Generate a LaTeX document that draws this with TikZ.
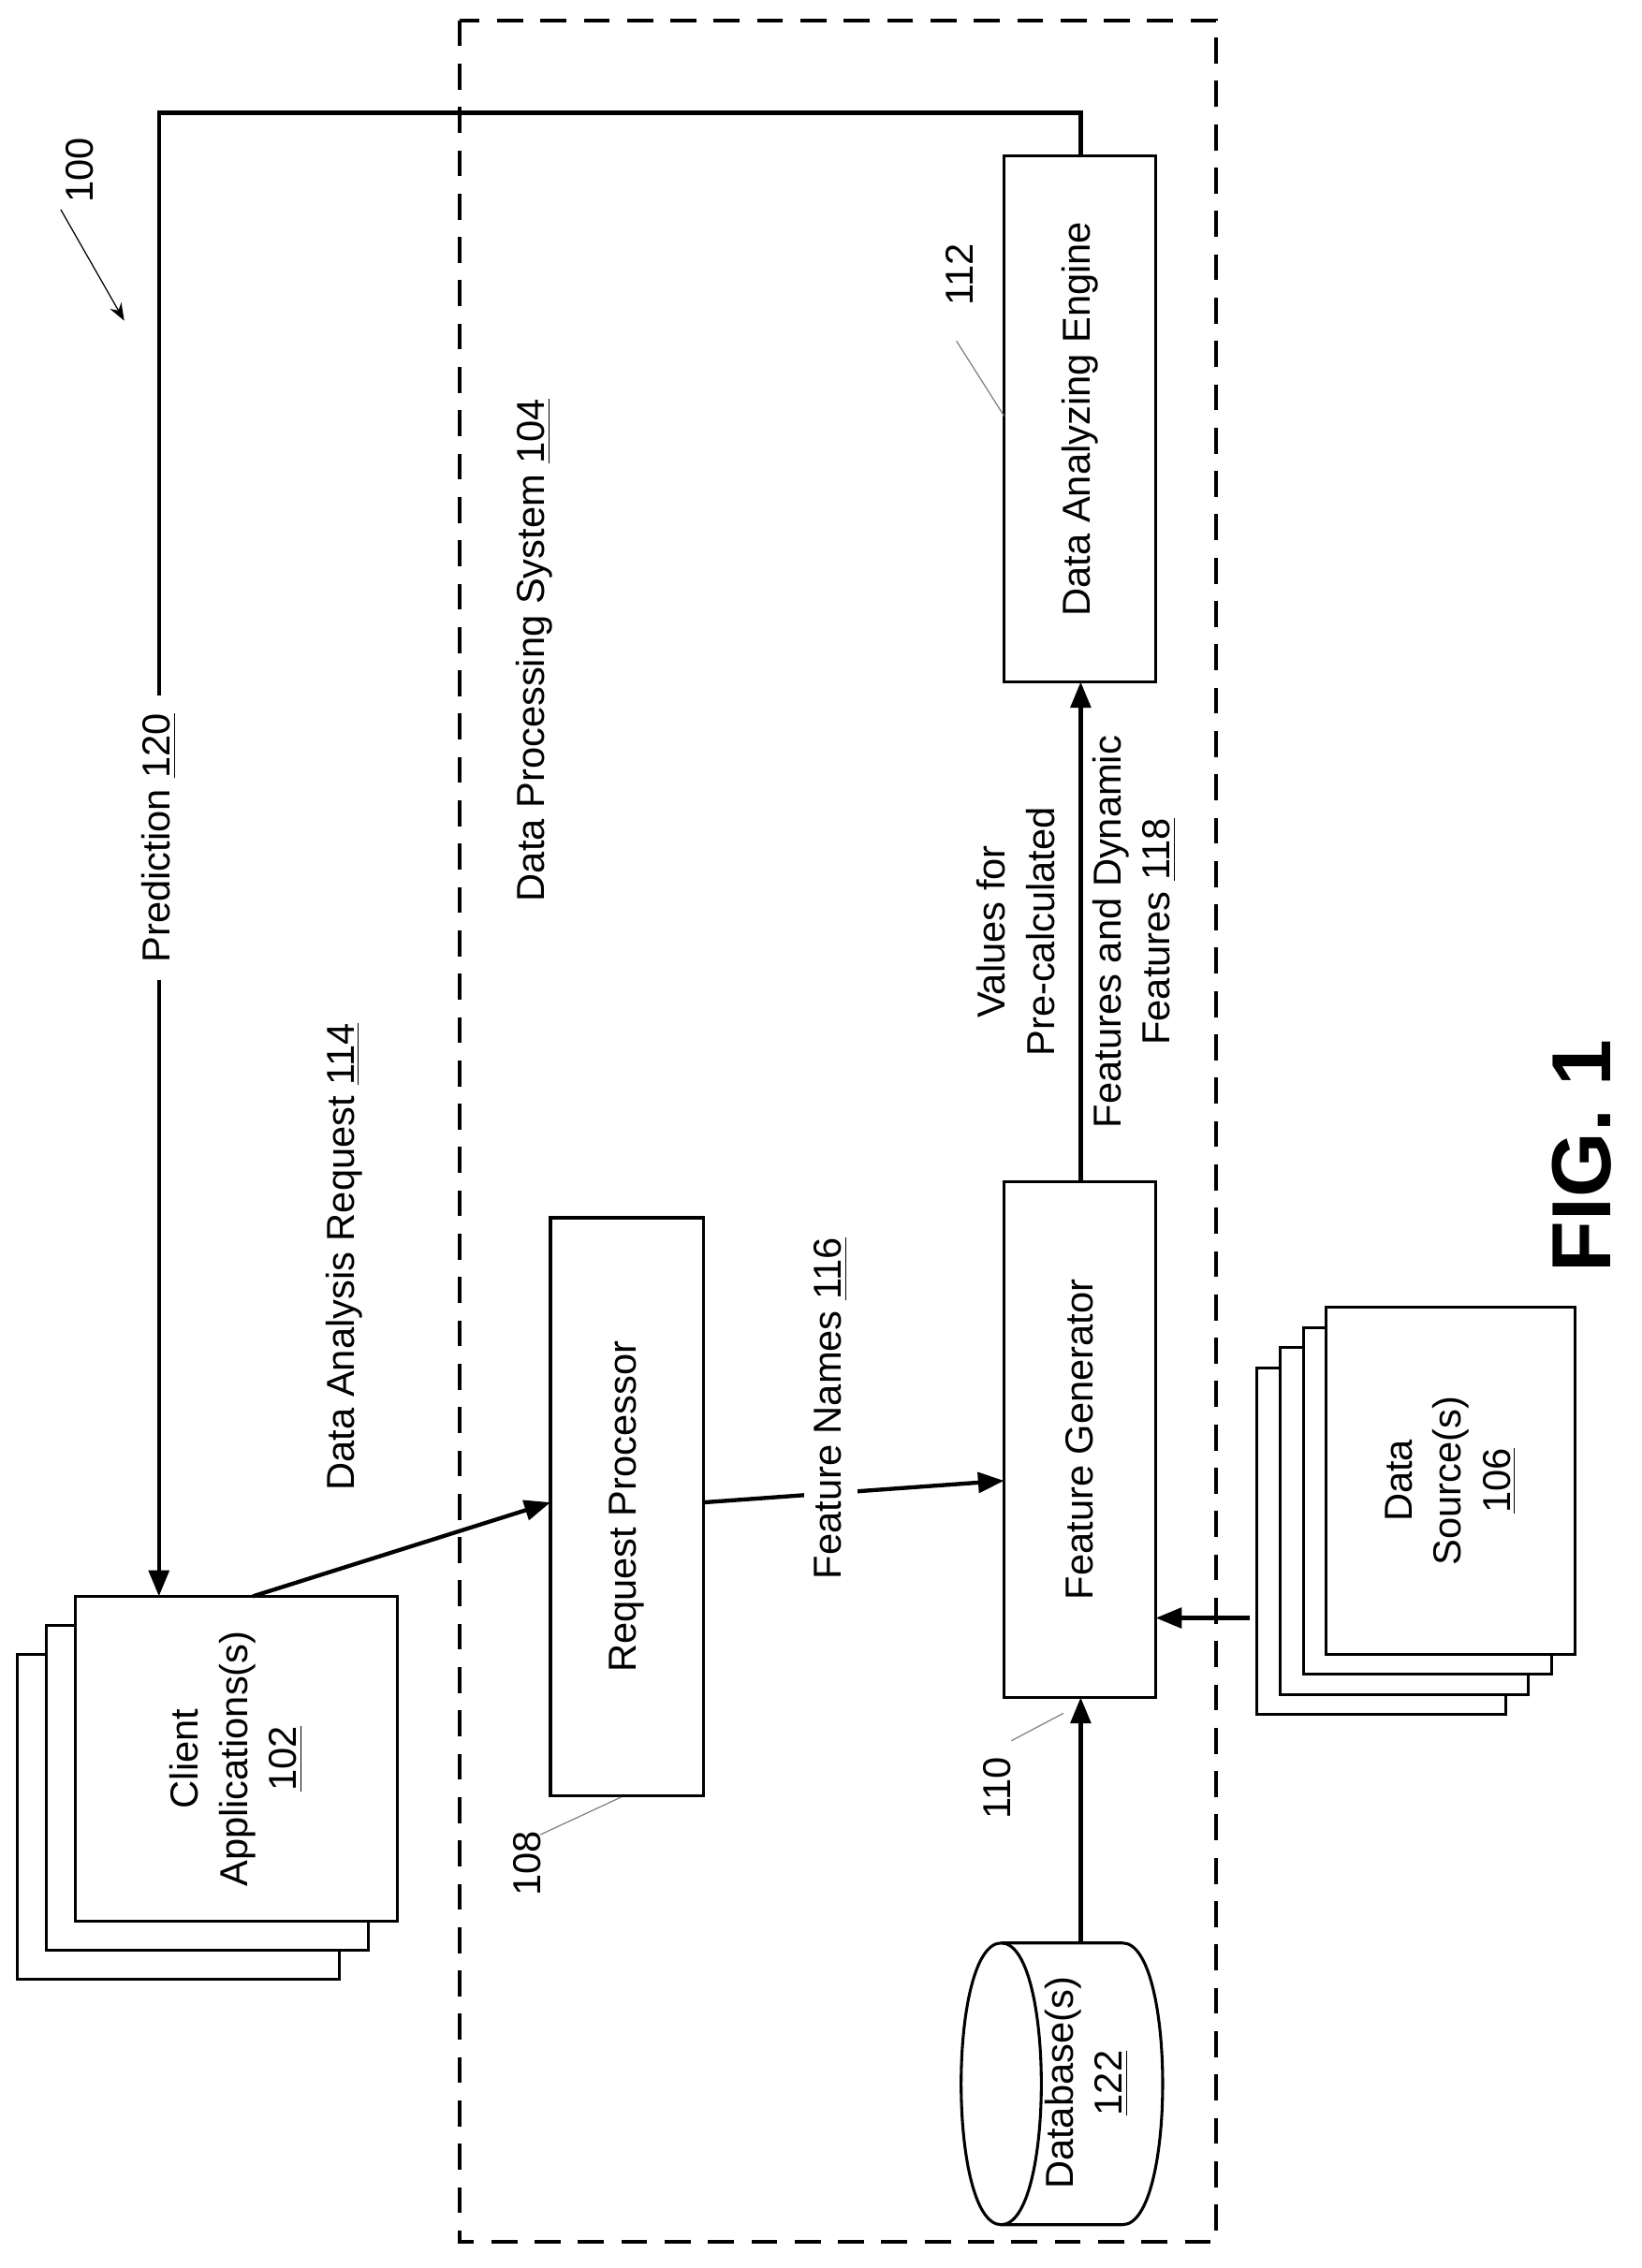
\documentclass[tikz,border=0pt]{standalone}
\usepackage{fontspec}
\setmainfont{Liberation Sans}
\usetikzlibrary{arrows.meta,positioning}
\tikzset{
    block/.style={draw,line width=1pt,rotate=90,align=center,fill=white,inner sep=0pt},
    lbl/.style={rotate=90,align=center,font=\fontsize{13.5}{17}\selectfont},
    pre/.style={-{Triangle[length=9pt,width=7pt]},line width=1.4pt},
    leader/.style={line width=0.4pt,gray}
}
\begin{document}
\begin{tikzpicture}[x=0.5pt,y=-0.5pt,font=\fontsize{13.5}{17}\selectfont]
    \useasboundingbox (0,0) rectangle (1136,1570);

    % system boundary
    \draw[dashed,line width=1.3pt,dash pattern=on 9pt off 6pt] (318,14) rectangle (842,1552);
    \node[lbl] (dps) at (370,450) {Data Processing System \underline{104}};

    % blocks
    \node[block,minimum width=182pt,minimum height=52.5pt] (dae) at (747.5,290) {Data Analyzing Engine};
    \node[block,minimum width=178.5pt,minimum height=52.5pt] (fg) at (747.5,996.5) {Feature Generator};
    \node[block,minimum width=200pt,minimum height=53pt] (rp) at (434,1043) {Request Processor};

    % client stack
    \foreach \i in {2,1}
        \node[block,minimum width=112.5pt,minimum height=111.5pt] at (163.5-20*\i,1217.5+20*\i) {};
    \node[block,minimum width=112.5pt,minimum height=111.5pt] (client) at (163.5,1217.5) {Client\\Applications(s)\\\underline{102}};

    % data source stack
    \foreach \i in {3,2,1}
        \node[block,minimum width=120pt,minimum height=86pt] at (1004-16*\i,1025+14*\i) {};
    \node[block,minimum width=120pt,minimum height=86pt] (src) at (1004,1025) {Data\\Source(s)\\\underline{106}};

    % database
    \draw[line width=1pt,fill=white] (693,1345) -- (777,1345) .. controls (814,1345) and (814,1540) .. (777,1540)
        -- (693,1540);
    \draw[line width=1pt] (693,1345) .. controls (730,1345) and (730,1540) .. (693,1540)
        .. controls (656,1540) and (656,1345) .. (693,1345);
    \node[lbl] (db) at (752,1442) {Database(s)\\\underline{122}};

    % connector ends
    \coordinate (db top) at (748,1345);
    \coordinate (fg bottom) at (748,1175);
    \coordinate (src in) at (865,1120);
    \coordinate (fg right) at (800,1120);
    \coordinate (fg top) at (748,818);
    \coordinate (dae bottom) at (748,472);
    \coordinate (dae top) at (748,108);
    \coordinate (client out) at (175,1105);
    \coordinate (client in) at (110,1105);
    \coordinate (rp left) at (381,1040);
    \coordinate (rp right) at (487,1040);
    \coordinate (fg left) at (695,1025);

    % connectors
    \draw[pre] (db top) -- (fg bottom);
    \draw[pre] (src in) -- (fg right);
    \draw[pre] (fg top) -- (dae bottom);
    \draw[pre] (client out) -- (rp left);
    \draw[pre] (dae top) -- (748,78) -- (110,78) -- (client in);
    \draw[pre] (rp right) -- (fg left);

    % labels on connectors
    \node[lbl,fill=white,inner sep=6pt] (pred) at (110,580) {Prediction \underline{120}};
    \node[lbl,fill=white,inner xsep=8pt] (fn) at (575,975) {Feature Names \underline{116}};
    \node[lbl] (dar) at (238,870) {Data Analysis Request \underline{114}};
    \node[lbl] (vals) at (745,645) {Values for\\Pre-calculated\\[6pt]Features and Dynamic\\Features \underline{118}};

    % reference numerals
    \node[lbl] (n100) at (55,118) {100};
    \coordinate (n100 tip) at (86,222);
    \draw[-{Stealth[length=6pt]},line width=0.4pt] (42,145) -- (n100 tip);
    \node[lbl] (n112) at (664,190) {112};
    \draw[leader] (695,288) -- (662,236);
    \node[lbl] (n108) at (365,1290) {108};
    \draw[leader] (430,1244) -- (374,1270);
    \node[lbl] (n110) at (690,1238) {110};
    \draw[leader] (736,1186) -- (700,1205);

    \node[rotate=90,font=\fontsize{29}{34}\selectfont\bfseries] (fig) at (1095,800) {FIG. 1};
\end{tikzpicture}
\end{document}
